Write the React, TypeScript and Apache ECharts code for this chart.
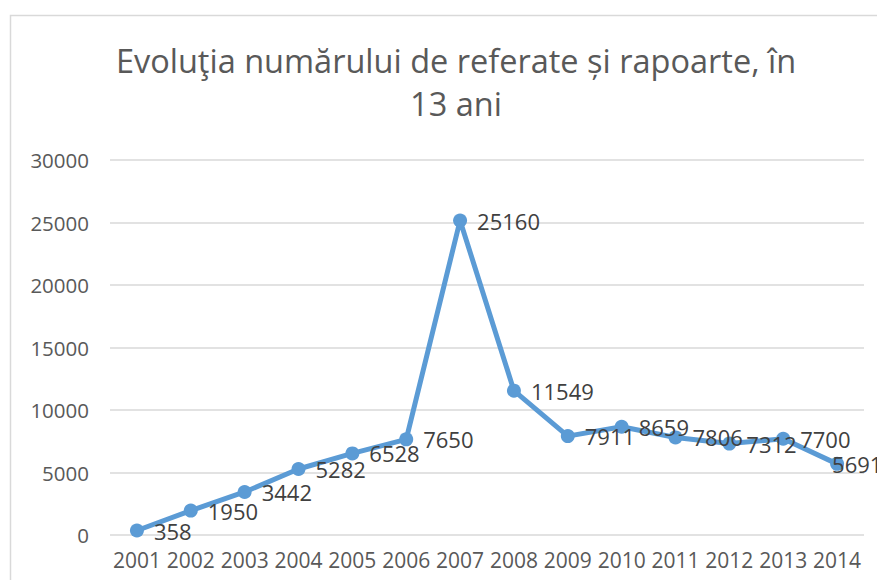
import React, { useEffect, useRef } from "react";
import * as echarts from "echarts";

const TITLE = "Evoluţia numărului de referate și rapoarte, în\n13 ani";
const years = ["2001","2002","2003","2004","2005","2006","2007","2008","2009","2010","2011","2012","2013","2014"];
const values = [358, 1950, 3442, 5282, 6528, 7650, 25160, 11549, 7911, 8659, 7806, 7312, 7700, 5691];
const yMin = 0;
const yMax = 30000;
const yStep = 5000;

const FONT = "'Open Sans', 'Liberation Sans', sans-serif";

export default function App() {
  const ref = useRef<HTMLDivElement>(null);
  useEffect(() => {
    if (!ref.current) return;
    const chart = echarts.init(ref.current, null, { renderer: "svg" });
    const data = values.map((v, i) =>
      i === values.length - 1
        ? { value: v, label: { distance: -12 } }
        : v
    );
    chart.setOption({
      animation: false,
      backgroundColor: "#ffffff",
      graphic: [
        {
          type: "rect",
          shape: { x: 10.5, y: 15.5, width: 900, height: 600 },
          style: { fill: "none", stroke: "#d9d9d9", lineWidth: 1.5 },
          silent: true,
          z: -1,
        },
      ],
      title: {
        text: TITLE,
        left: 451,
        top: 34,
        textAlign: "center",
        textStyle: {
          fontFamily: FONT,
          fontSize: 32.5,
          fontWeight: "normal",
          color: "#595959",
          lineHeight: 43,
        },
      },
      grid: { left: 110, right: 21, top: 160, bottom: 53, containLabel: false },
      xAxis: {
        type: "category",
        data: years,
        boundaryGap: true,
        axisLine: { show: false },
        axisTick: { show: false },
        axisLabel: { interval: 0, color: "#595959", fontFamily: FONT, fontSize: 21, margin: 14 },
      },
      yAxis: {
        type: "value",
        min: yMin,
        max: yMax,
        interval: yStep,
        axisLine: { show: false },
        axisTick: { show: false },
        axisLabel: {
          color: "#595959",
          fontFamily: FONT,
          fontSize: 20.5,
          margin: 21,
          formatter: (v: number) => String(v),
        },
        splitLine: { lineStyle: { color: "#d9d9d9", width: 1.5 } },
      },
      series: [
        {
          type: "line",
          data,
          symbol: "circle",
          symbolSize: 14,
          lineStyle: { color: "#5B9BD5", width: 5 },
          itemStyle: { color: "#5B9BD5" },
          label: {
            show: true,
            position: "right",
            distance: 10,
            color: "#404040",
            fontFamily: FONT,
            fontSize: 22,
          },
        },
      ],
    });
    return () => chart.dispose();
  }, []);
  return <div ref={ref} style={{ width: 885, height: 588, margin: -8 }} />;
}
